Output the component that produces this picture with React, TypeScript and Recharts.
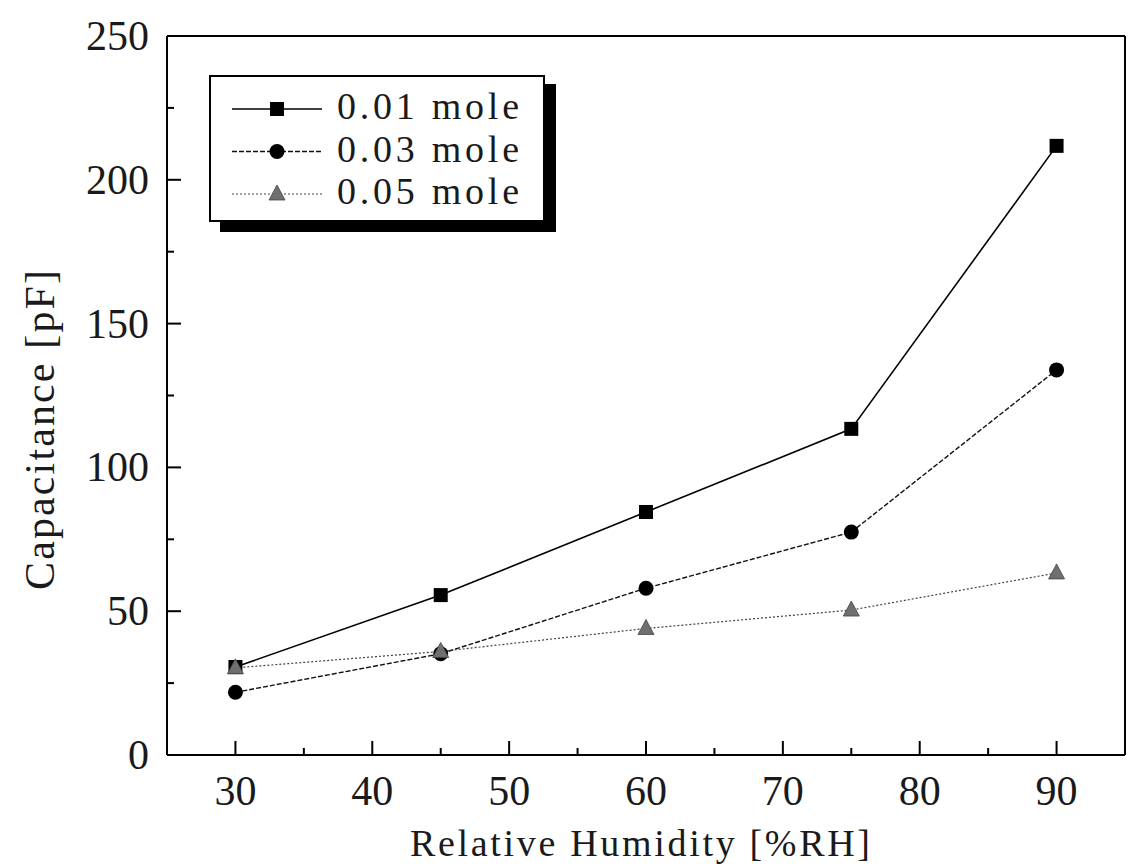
import React from "react"
import { LineChart, Line, XAxis, YAxis, Legend } from "recharts"

const humidity = [30, 45, 60, 75, 90]
const cap001 = [30.6, 55.6, 84.5, 113.4, 211.8]
const cap003 = [21.8, 35.2, 58, 77.5, 133.9]
const cap005 = [30.3, 36, 44, 50.4, 63.3]

const seriesNames = ["0.01 mole", "0.03 mole", "0.05 mole"]
const xTicks = [30, 35, 40, 45, 50, 55, 60, 65, 70, 75, 80, 85, 90]
const yTicks = [0, 25, 50, 75, 100, 125, 150, 175, 200, 225, 250]
const xLabel = "Relative Humidity [%RH]"
const yLabel = "Capacitance [pF]"

const data = humidity.map((h, i) => ({
  h,
  s1: cap001[i],
  s2: cap003[i],
  s3: cap005[i],
}))

const FONT = "'Liberation Serif', 'DejaVu Serif', serif"
const INK = "#1a1a1a"

const Square = (props: any) => {
  const { cx, cy } = props
  if (cx == null || cy == null) return null
  return <rect x={cx - 7} y={cy - 7} width={14} height={14} fill="#000" />
}

const Circle = (props: any) => {
  const { cx, cy } = props
  if (cx == null || cy == null) return null
  return <circle cx={cx} cy={cy} r={7.5} fill="#000" />
}

const Triangle = (props: any) => {
  const { cx, cy } = props
  if (cx == null || cy == null) return null
  return (
    <polygon
      points={`${cx},${cy - 9} ${cx - 8},${cy + 6} ${cx + 8},${cy + 6}`}
      fill="#6f6f6f"
      stroke="#444"
      strokeWidth={0.8}
    />
  )
}

const XTick = (props: any) => {
  const { x, y, payload } = props
  const major = payload.value % 10 === 0
  return (
    <g>
      <line x1={x} x2={x} y1={y} y2={y - (major ? 14 : 7)} stroke="#000" strokeWidth={2} />
      {major && (
        <text x={x} y={y + 50} textAnchor="middle" fontFamily={FONT} fontSize={42} fill={INK}>
          {payload.value}
        </text>
      )}
    </g>
  )
}

const YTick = (props: any) => {
  const { x, y, payload } = props
  const major = payload.value % 50 === 0
  return (
    <g>
      <line x1={x} x2={x + (major ? 14 : 7)} y1={y} y2={y} stroke="#000" strokeWidth={2} />
      {major && (
        <text x={x - 18} y={y + 14} textAnchor="end" fontFamily={FONT} fontSize={42} fill={INK}>
          {payload.value}
        </text>
      )}
    </g>
  )
}

const markers = [
  (cx: number, cy: number) => <Square cx={cx} cy={cy} />,
  (cx: number, cy: number) => <Circle cx={cx} cy={cy} />,
  (cx: number, cy: number) => <Triangle cx={cx} cy={cy} />,
]
const lineStyles = [
  { stroke: "#000", strokeWidth: 1.6, dash: undefined },
  { stroke: "#111", strokeWidth: 1.4, dash: "5 2" },
  { stroke: "#444", strokeWidth: 1.2, dash: "2 2" },
]

const LegendBox = () => (
  <svg width={350} height={160} style={{ display: "block" }}>
    <rect x={11} y={9} width={336} height={148} fill="#000" />
    <rect x={1} y={1} width={334} height={145} fill="#fff" stroke="#000" strokeWidth={2} />
    {seriesNames.map((name, i) => {
      const cy = 34 + i * 42.5
      const st = lineStyles[i]
      return (
        <g key={name}>
          <line x1={23} x2={113} y1={cy} y2={cy} stroke={st.stroke} strokeWidth={st.strokeWidth} strokeDasharray={st.dash} />
          {markers[i](68, cy)}
          <text x={128} y={cy + 10} fontFamily={FONT} fontSize={38} fill={INK} textLength={182} lengthAdjust="spacing">
            {name}
          </text>
        </g>
      )
    })}
  </svg>
)

export default function App() {
  return (
    <div style={{ position: "absolute", left: 0, top: 0, width: 1132, height: 866, background: "#fff" }}>
      <LineChart
        width={1132}
        height={866}
        data={data}
        margin={{ top: 35, right: 6, bottom: 110, left: 166 }}
      >
        <XAxis
          dataKey="h"
          type="number"
          domain={[25, 95]}
          ticks={xTicks}
          interval={0}
          height={1}
          tickSize={0}
          tickMargin={0}
          tick={<XTick />}
          axisLine={{ stroke: "#000", strokeWidth: 2 }}
          tickLine={false}
        />
        <XAxis xAxisId="top" dataKey="h" type="number" domain={[25, 95]} orientation="top" height={1} tick={false} tickLine={false} axisLine={{ stroke: "#000", strokeWidth: 2 }} />
        <YAxis
          type="number"
          domain={[0, 250]}
          ticks={yTicks}
          interval={0}
          width={1}
          tickSize={0}
          tickMargin={0}
          tick={<YTick />}
          axisLine={{ stroke: "#000", strokeWidth: 2 }}
          tickLine={false}
        />
        <YAxis yAxisId="right" orientation="right" domain={[0, 250]} width={1} tick={false} tickLine={false} axisLine={{ stroke: "#000", strokeWidth: 2 }} />
        <Legend
          layout="vertical"
          align="center"
          verticalAlign="middle"
          wrapperStyle={{ left: 209, top: 75, width: 350, height: 160 }}
          content={() => <LegendBox />}
        />
        <Line dataKey="s1" name={seriesNames[0]} stroke="#000" strokeWidth={1.6} dot={<Square />} activeDot={false} isAnimationActive={false} />
        <Line dataKey="s2" name={seriesNames[1]} stroke="#111" strokeWidth={1.4} strokeDasharray="5 2" dot={<Circle />} activeDot={false} isAnimationActive={false} />
        <Line dataKey="s3" name={seriesNames[2]} stroke="#444" strokeWidth={1.2} strokeDasharray="2 2" dot={<Triangle />} activeDot={false} isAnimationActive={false} />
      </LineChart>
      <svg width={1132} height={866} style={{ position: "absolute", left: 0, top: 0, pointerEvents: "none" }}>
        <text x={640} y={856} textAnchor="middle" fontFamily={FONT} fontSize={38} fill={INK} textLength={460} lengthAdjust="spacing">
          {xLabel}
        </text>
        <text
          transform="translate(54, 430) rotate(-90)"
          textAnchor="middle"
          fontFamily={FONT}
          fontSize={42}
          fill={INK}
          textLength={320}
          lengthAdjust="spacing"
        >
          {yLabel}
        </text>
      </svg>
    </div>
  )
}
